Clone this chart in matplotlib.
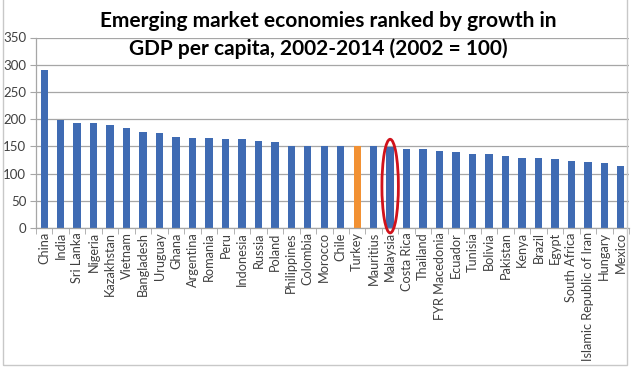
import numpy as np
import matplotlib
matplotlib.use("Agg")
import matplotlib.pyplot as plt
from matplotlib.patches import Ellipse, Rectangle

countries = ["China", "India", "Sri Lanka", "Nigeria", "Kazakhstan", "Vietnam",
             "Bangladesh", "Uruguay", "Ghana", "Argentina", "Romania", "Peru",
             "Indonesia", "Russia", "Poland", "Philippines", "Colombia", "Morocco",
             "Chile", "Turkey", "Mauritius", "Malaysia", "Costa Rica", "Thailand",
             "FYR Macedonia", "Ecuador", "Tunisia", "Bolivia", "Pakistan", "Kenya",
             "Brazil", "Egypt", "South Africa", "Islamic Republic of Iran",
             "Hungary", "Mexico"]
growth = [291, 199, 193, 193, 189, 184, 177, 174, 167, 165, 165, 163,
          163, 160, 158, 150, 150, 150, 150, 150, 150, 148, 145, 145,
          142, 139, 136, 136, 132, 129, 129, 126, 123, 121, 119, 113]
highlight = "Turkey"
circled = "Malaysia"
y_ticks = [0, 50, 100, 150, 200, 250, 300, 350]

blue = "#3f6bb3"
orange = "#f29133"
grid_col = "#a6a6a6"
text_col = "#404040"

plt.rcParams["font.family"] = ["Lato", "DejaVu Sans"]

fig = plt.figure(figsize=(6.35, 3.71), dpi=100)
ax = fig.add_axes([36 / 635, 1 - 228 / 371, (629 - 36) / 635, (228 - 37.5) / 371])

x = np.arange(len(countries))
colors = [orange if c == highlight else blue for c in countries]
ax.bar(x, growth, width=0.45, color=colors, zorder=2)

ax.set_xlim(-0.5, len(countries) - 0.5)
ax.set_ylim(0, 350)
ax.set_yticks(y_ticks)
ax.set_yticklabels([str(v) for v in y_ticks], fontsize=9.5, color=text_col)
ax.yaxis.grid(True, color=grid_col, linewidth=0.9, zorder=0)
ax.set_axisbelow(True)

ax.set_xticks(x)
ax.set_xticklabels(countries, rotation=90, fontsize=9.2, color=text_col)
ax.tick_params(axis="x", which="major", length=0, pad=3)
ax.set_xticks(np.arange(-0.5, len(countries), 1), minor=True)
ax.tick_params(axis="x", which="minor", length=4, color=grid_col, direction="out")
ax.tick_params(axis="y", length=4, color=grid_col, pad=3)

for side in ["top", "right"]:
    ax.spines[side].set_visible(False)
for side in ["left", "bottom"]:
    ax.spines[side].set_color(grid_col)
    ax.spines[side].set_linewidth(0.9)

# red ring around Malaysia
i = countries.index(circled)
ax.add_patch(Ellipse((i, 77), 1.0, 172, fill=False, edgecolor="#d0121b",
                     linewidth=2, clip_on=False, zorder=5))

# two-line title, baselines at y=27 and y=55 px
fig.text(328 / 635, 1 - 27 / 371, "Emerging market economies ranked by growth in",
         ha="center", va="baseline", fontsize=15, fontweight="bold", color="black")
fig.text(318 / 635, 1 - 55 / 371, "GDP per capita, 2002-2014 (2002 = 100)",
         ha="center", va="baseline", fontsize=15, fontweight="bold", color="black")

# chart frame
fig.patches.append(Rectangle((3 / 635, 1 - 365 / 371), (627 - 3) / 635, 365 / 371 + 0.05,
                             transform=fig.transFigure, fill=False,
                             edgecolor="#c8c8c8", linewidth=1))

fig.savefig("out.png", dpi=100)
